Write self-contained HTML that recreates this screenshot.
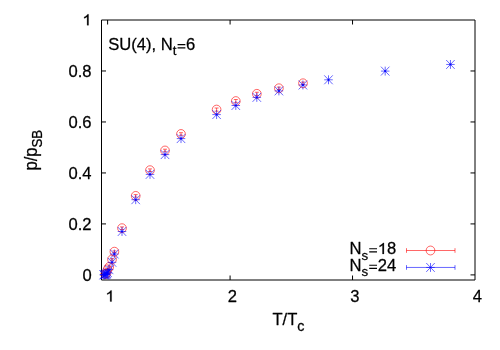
<!DOCTYPE html>
<html><head><meta charset="utf-8"><title>plot</title>
<style>
html,body{margin:0;padding:0;background:#fff;}
body{width:500px;height:350px;overflow:hidden;}
svg{display:block;will-change:transform;}
text{font-family:"Liberation Sans",sans-serif;}
</style></head><body>
<svg width="500" height="350" viewBox="0 0 500 350">
<rect width="500" height="350" fill="#fff"/>

<g fill="none" stroke="#000" stroke-width="1">
<path d="M101.5 20.0H475.0V280.0H101.5Z"/>
<path d="M107.62 20.0v4.5M230.08 280.0v-4.5M230.08 20.0v4.5M352.54 280.0v-4.5M352.54 20.0v4.5M101.5 274.90h4.5M475.0 274.90h-4.5M101.5 223.92h4.5M475.0 223.92h-4.5M101.5 172.94h4.5M475.0 172.94h-4.5M101.5 121.96h4.5M475.0 121.96h-4.5M101.5 70.98h4.5M475.0 70.98h-4.5"/>
</g>
<g fill="#000" stroke="#000" stroke-width="0.25" stroke-linejoin="round">
<g transform="translate(91.60 280.50) scale(1 1.02)"><text x="-9.23" y="0.00" font-size="16.60">0</text></g>
<g transform="translate(91.60 229.52) scale(1 1.02)"><text x="-23.07" y="0.00" font-size="16.60">0.2</text></g>
<g transform="translate(91.60 178.54) scale(1 1.02)"><text x="-23.07" y="0.00" font-size="16.60">0.4</text></g>
<g transform="translate(91.60 127.56) scale(1 1.02)"><text x="-23.07" y="0.00" font-size="16.60">0.6</text></g>
<g transform="translate(91.60 76.58) scale(1 1.02)"><text x="-23.07" y="0.00" font-size="16.60">0.8</text></g>
<g transform="translate(91.60 25.60) scale(1 1.02)"><path transform="translate(-9.23 -0.30) scale(0.01660 -0.01502)" d="M373 0H285V560Q253 530 201.5 499.5Q150 469 108 454V539Q182 574 237.5 623.5Q293 673 316 719H373Z" stroke-width="15.1"/></g>
<g transform="translate(110.02 301.80) scale(1 1.02)"><path transform="translate(-4.61 -0.30) scale(0.01660 -0.01502)" d="M373 0H285V560Q253 530 201.5 499.5Q150 469 108 454V539Q182 574 237.5 623.5Q293 673 316 719H373Z" stroke-width="15.1"/></g>
<g transform="translate(232.48 301.80) scale(1 1.02)"><text x="-4.61" y="0.00" font-size="16.60">2</text></g>
<g transform="translate(354.94 301.80) scale(1 1.02)"><text x="-4.61" y="0.00" font-size="16.60">3</text></g>
<g transform="translate(477.40 301.80) scale(1 1.02)"><text x="-4.61" y="0.00" font-size="16.60">4</text></g>
<g transform="translate(288.50 325.10) scale(1 1.02)"><text x="-16.06" y="0.00" font-size="16.60">T/T</text><text x="8.84" y="6.00" font-size="14.44">c</text></g>
<g transform="translate(37.4 170.6) rotate(-90) scale(1 1.07)"><text x="0.00" y="0.00" font-size="16.60">p/p</text><text x="23.07" y="4.70" font-size="13.28">SB</text></g>
<g transform="translate(108.15 50.10) scale(1 1.02)"><text x="0.00" y="0.00" font-size="16.60">SU(4), N</text><text x="64.56" y="4.70" font-size="13.28">t</text><path stroke="none" d="M69.41 -5.90h7.80v1.15h-7.80zM69.41 -2.80h7.80v1.15h-7.80z"/><text x="77.94" y="0.00" font-size="16.60">6</text></g>
<g transform="translate(396.20 254.20) scale(1 1.02)"><text x="-46.78" y="0.00" font-size="16.60">N</text><text x="-34.79" y="5.50" font-size="13.28">s</text><path stroke="none" d="M-26.99 -5.90h7.80v1.15h-7.80zM-26.99 -2.80h7.80v1.15h-7.80z"/><path transform="translate(-18.46 -0.30) scale(0.01660 -0.01502)" d="M373 0H285V560Q253 530 201.5 499.5Q150 469 108 454V539Q182 574 237.5 623.5Q293 673 316 719H373Z" stroke-width="15.1"/><text x="-9.23" y="0.00" font-size="16.60">8</text></g>
<g transform="translate(396.20 270.70) scale(1 1.02)"><text x="-46.78" y="0.00" font-size="16.60">N</text><text x="-34.79" y="5.50" font-size="13.28">s</text><path stroke="none" d="M-26.99 -5.90h7.80v1.15h-7.80zM-26.99 -2.80h7.80v1.15h-7.80z"/><text x="-18.46" y="0.00" font-size="16.60">24</text></g>
</g>
<g fill="none" stroke="#f00" stroke-width="0.6">
<path d="M406.5 250.5H455.0M406.5 248.2v4.6M455.0 248.2v4.6"/>
<ellipse cx="430.5" cy="250.5" rx="4.35" ry="4.449999999999999"/>
<path d="M114.4 250.89999999999998V252.5M112.4 250.89999999999998H116.4M112.4 252.5H116.4"/>
<ellipse cx="114.4" cy="251.7" rx="4.35" ry="4.449999999999999"/>
<path d="M112.0 258.65V260.25M110.0 258.65H114.0M110.0 260.25H114.0"/>
<ellipse cx="112.0" cy="259.45" rx="4.35" ry="4.449999999999999"/>
<path d="M109.2 266.2V267.8M107.2 266.2H111.2M107.2 267.8H111.2"/>
<ellipse cx="109.2" cy="267.0" rx="4.35" ry="4.449999999999999"/>
<path d="M107.6 268.7V269.90000000000003M105.6 268.7H109.6M105.6 269.90000000000003H109.6"/>
<ellipse cx="107.6" cy="269.3" rx="4.35" ry="4.449999999999999"/>
<path d="M106.5 273.0V273.79999999999995M104.5 273.0H108.5M104.5 273.79999999999995H108.5"/>
<ellipse cx="106.5" cy="273.4" rx="4.35" ry="4.449999999999999"/>
<path d="M105.2 273.8V274.40000000000003M103.2 273.8H107.2M103.2 274.40000000000003H107.2"/>
<ellipse cx="105.2" cy="274.1" rx="4.35" ry="4.449999999999999"/>
<path d="M122.0 226.89999999999998V229.5M120.0 226.89999999999998H124.0M120.0 229.5H124.0"/>
<ellipse cx="122.0" cy="228.2" rx="4.35" ry="4.449999999999999"/>
<path d="M135.7 194.6V197.20000000000002M133.7 194.6H137.7M133.7 197.20000000000002H137.7"/>
<ellipse cx="135.7" cy="195.9" rx="4.35" ry="4.449999999999999"/>
<path d="M150.0 168.89999999999998V171.5M148.0 168.89999999999998H152.0M148.0 171.5H152.0"/>
<ellipse cx="150.0" cy="170.2" rx="4.35" ry="4.449999999999999"/>
<path d="M165.0 149.2V151.8M163.0 149.2H167.0M163.0 151.8H167.0"/>
<ellipse cx="165.0" cy="150.5" rx="4.35" ry="4.449999999999999"/>
<path d="M181.0 132.7V135.3M179.0 132.7H183.0M179.0 135.3H183.0"/>
<ellipse cx="181.0" cy="134.0" rx="4.35" ry="4.449999999999999"/>
<path d="M216.6 108.0V111.19999999999999M214.6 108.0H218.6M214.6 111.19999999999999H218.6"/>
<ellipse cx="216.6" cy="109.6" rx="4.35" ry="4.449999999999999"/>
<path d="M235.8 99.5V102.69999999999999M233.8 99.5H237.8M233.8 102.69999999999999H237.8"/>
<ellipse cx="235.8" cy="101.1" rx="4.35" ry="4.449999999999999"/>
<path d="M256.85 92.25V95.44999999999999M254.85000000000002 92.25H258.85M254.85000000000002 95.44999999999999H258.85"/>
<ellipse cx="256.85" cy="93.85" rx="4.35" ry="4.449999999999999"/>
<path d="M278.9 87.1V89.5M276.9 87.1H280.9M276.9 89.5H280.9"/>
<ellipse cx="278.9" cy="88.3" rx="4.35" ry="4.449999999999999"/>
<path d="M303.0 82.1V84.5M301.0 82.1H305.0M301.0 84.5H305.0"/>
<ellipse cx="303.0" cy="83.3" rx="4.35" ry="4.449999999999999"/>
</g>
<g fill="none" stroke="#00f" stroke-width="0.6">
<path d="M406.5 267.45H455.0M406.5 265.15v4.6M455.0 265.15v4.6"/>
<path d="M426.25 267.45H434.75M430.5 263.00V271.90M426.25 263.00L434.75 271.90M426.25 271.90L434.75 263.00"/>
<path d="M114.35 253.52V254.48M113.25 253.52H115.44999999999999M113.25 254.48H115.44999999999999"/>
<path d="M110.10 254.0H118.60M114.35 249.55V258.45M110.10 249.55L118.60 258.45M110.10 258.45L118.60 249.55"/>
<path d="M112.0 261.82V262.78000000000003M110.9 261.82H113.1M110.9 262.78000000000003H113.1"/>
<path d="M107.75 262.3H116.25M112.0 257.85V266.75M107.75 257.85L116.25 266.75M107.75 266.75L116.25 257.85"/>
<path d="M109.1 269.28V270.12M108.0 269.28H110.19999999999999M108.0 270.12H110.19999999999999"/>
<path d="M104.85 269.7H113.35M109.1 265.25V274.15M104.85 265.25L113.35 274.15M104.85 274.15L113.35 265.25"/>
<path d="M107.6 272.3V272.90000000000003M106.5 272.3H108.69999999999999M106.5 272.90000000000003H108.69999999999999"/>
<path d="M103.35 272.6H111.85M107.6 268.15V277.05M103.35 268.15L111.85 277.05M103.35 277.05L111.85 268.15"/>
<path d="M106.9 273.36V273.84000000000003M105.80000000000001 273.36H108.0M105.80000000000001 273.84000000000003H108.0"/>
<path d="M102.65 273.6H111.15M106.9 269.15V278.05M102.65 269.15L111.15 278.05M102.65 278.05L111.15 269.15"/>
<path d="M106.2 274.02V274.38M105.10000000000001 274.02H107.3M105.10000000000001 274.38H107.3"/>
<path d="M101.95 274.2H110.45M106.2 269.75V278.65M101.95 269.75L110.45 278.65M101.95 278.65L110.45 269.75"/>
<path d="M105.5 274.32V274.68M104.4 274.32H106.6M104.4 274.68H106.6"/>
<path d="M101.25 274.5H109.75M105.5 270.05V278.95M101.25 270.05L109.75 278.95M101.25 278.95L109.75 270.05"/>
<path d="M104.9 274.52V274.88M103.80000000000001 274.52H106.0M103.80000000000001 274.88H106.0"/>
<path d="M100.65 274.7H109.15M104.9 270.25V279.15M100.65 270.25L109.15 279.15M100.65 279.15L109.15 270.25"/>
<path d="M104.3 274.62V274.98M103.2 274.62H105.39999999999999M103.2 274.98H105.39999999999999"/>
<path d="M100.05 274.8H108.55M104.3 270.35V279.25M100.05 270.35L108.55 279.25M100.05 279.25L108.55 270.35"/>
<path d="M103.7 274.62V274.98M102.60000000000001 274.62H104.8M102.60000000000001 274.98H104.8"/>
<path d="M99.45 274.8H107.95M103.7 270.35V279.25M99.45 270.35L107.95 279.25M99.45 279.25L107.95 270.35"/>
<path d="M122.0 231.02V231.98M120.9 231.02H123.1M120.9 231.98H123.1"/>
<path d="M117.75 231.5H126.25M122.0 227.05V235.95M117.75 227.05L126.25 235.95M117.75 235.95L126.25 227.05"/>
<path d="M135.7 199.22V200.17999999999998M134.6 199.22H136.79999999999998M134.6 200.17999999999998H136.79999999999998"/>
<path d="M131.45 199.7H139.95M135.7 195.25V204.15M131.45 195.25L139.95 204.15M131.45 204.15L139.95 195.25"/>
<path d="M150.0 173.92000000000002V174.88M148.9 173.92000000000002H151.1M148.9 174.88H151.1"/>
<path d="M145.75 174.4H154.25M150.0 169.95V178.85M145.75 169.95L154.25 178.85M145.75 178.85L154.25 169.95"/>
<path d="M165.0 154.12V155.07999999999998M163.9 154.12H166.1M163.9 155.07999999999998H166.1"/>
<path d="M160.75 154.6H169.25M165.0 150.15V159.05M160.75 150.15L169.25 159.05M160.75 159.05L169.25 150.15"/>
<path d="M181.0 138.12V139.07999999999998M179.9 138.12H182.1M179.9 139.07999999999998H182.1"/>
<path d="M176.75 138.6H185.25M181.0 134.15V143.05M176.75 134.15L185.25 143.05M176.75 143.05L185.25 134.15"/>
<path d="M216.6 114.11999999999999V115.08M215.5 114.11999999999999H217.7M215.5 115.08H217.7"/>
<path d="M212.35 114.6H220.85M216.6 110.15V119.05M212.35 110.15L220.85 119.05M212.35 119.05L220.85 110.15"/>
<path d="M235.8 105.02V105.98M234.70000000000002 105.02H236.9M234.70000000000002 105.98H236.9"/>
<path d="M231.55 105.5H240.05M235.8 101.05V109.95M231.55 101.05L240.05 109.95M231.55 109.95L240.05 101.05"/>
<path d="M256.8 96.92V97.88000000000001M255.70000000000002 96.92H257.90000000000003M255.70000000000002 97.88000000000001H257.90000000000003"/>
<path d="M252.55 97.4H261.05M256.8 92.95V101.85M252.55 92.95L261.05 101.85M252.55 101.85L261.05 92.95"/>
<path d="M278.9 90.42V91.38000000000001M277.79999999999995 90.42H280.0M277.79999999999995 91.38000000000001H280.0"/>
<path d="M274.65 90.9H283.15M278.9 86.45V95.35M274.65 86.45L283.15 95.35M274.65 95.35L283.15 86.45"/>
<path d="M302.9 84.52V85.48M301.79999999999995 84.52H304.0M301.79999999999995 85.48H304.0"/>
<path d="M298.65 85.0H307.15M302.9 80.55V89.45M298.65 80.55L307.15 89.45M298.65 89.45L307.15 80.55"/>
<path d="M328.5 79.32V80.28M327.4 79.32H329.6M327.4 80.28H329.6"/>
<path d="M324.25 79.8H332.75M328.5 75.35V84.25M324.25 75.35L332.75 84.25M324.25 84.25L332.75 75.35"/>
<path d="M385.2 70.61999999999999V71.58M384.09999999999997 70.61999999999999H386.3M384.09999999999997 71.58H386.3"/>
<path d="M380.95 71.1H389.45M385.2 66.65V75.55M380.95 66.65L389.45 75.55M380.95 75.55L389.45 66.65"/>
<path d="M450.45 63.970000000000006V64.93M449.34999999999997 63.970000000000006H451.55M449.34999999999997 64.93H451.55"/>
<path d="M446.20 64.45H454.70M450.45 60.00V68.90M446.20 60.00L454.70 68.90M446.20 68.90L454.70 60.00"/>
</g>
</svg></body></html>
